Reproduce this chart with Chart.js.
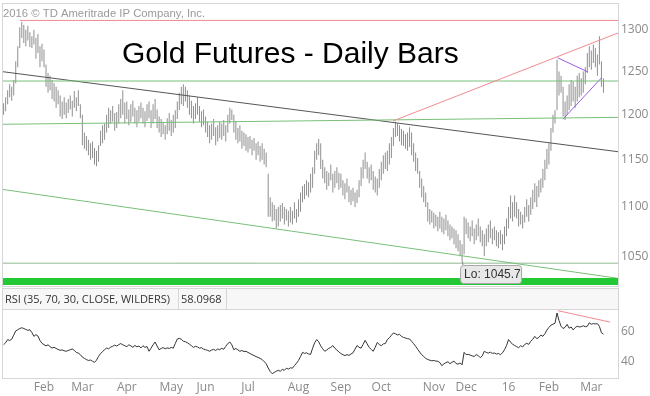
<!DOCTYPE html>
<html>
<head>
<meta charset="utf-8">
<script src="https://cdn.jsdelivr.net/npm/chart.js@4.4.1/dist/chart.umd.min.js"></script>
<style>
  body { margin: 0; background: #fff; }
  #wrap { position: relative; width: 650px; height: 396px; }
  #priceChart { position: absolute; left: 0; top: 0; }
  #rsiChart { position: absolute; left: 0; top: 288px; }
</style>
</head>
<body>
<div id="wrap">
  <canvas id="priceChart" width="650" height="288"></canvas>
  <canvas id="rsiChart" width="650" height="108"></canvas>
</div>
<script>
// daily bars, one entry per trading day (Jan 2015 -> Mar 2016)
const highs = [
  1213, 1220, 1228, 1235, 1232, 1240, 1262, 1280, 1303, 1310,
  1306, 1300, 1305, 1297, 1292, 1300, 1290, 1295, 1280, 1283,
  1276, 1258, 1248, 1245, 1240, 1236, 1232, 1228, 1222, 1215,
  1220, 1214, 1218, 1222, 1216, 1227, 1220, 1228, 1212, 1200,
  1180, 1176, 1172, 1168, 1170, 1163, 1160, 1166, 1182, 1188,
  1190, 1200, 1208, 1205, 1210, 1202, 1203, 1212, 1218, 1228,
  1214, 1215, 1206, 1212, 1216, 1208, 1205, 1210, 1214, 1208,
  1204, 1212, 1215, 1205, 1212, 1218, 1206, 1198, 1195, 1192,
  1188, 1196, 1202, 1194, 1200, 1205, 1215, 1225, 1232, 1235,
  1232, 1228, 1222, 1216, 1210, 1213, 1220, 1210, 1204, 1206,
  1198, 1192, 1188, 1190, 1195, 1186, 1188, 1192, 1190, 1194,
  1188, 1200, 1208, 1206, 1200, 1192, 1185, 1188, 1182, 1180,
  1178, 1175, 1176, 1172, 1174, 1168, 1170, 1165, 1168, 1162,
  1158, 1135, 1110, 1105, 1102, 1098, 1100, 1102, 1104, 1100,
  1098, 1096, 1100, 1096, 1105, 1098, 1108, 1115, 1122, 1124,
  1128, 1126, 1135, 1142, 1160, 1168, 1173, 1168, 1150, 1142,
  1138, 1136, 1145, 1135, 1138, 1142, 1136, 1135, 1128, 1125,
  1130, 1122, 1118, 1120, 1115, 1118, 1128, 1142, 1150, 1158,
  1148, 1142, 1145, 1138, 1132, 1130, 1140, 1148, 1155, 1158,
  1160, 1168, 1175, 1185, 1192, 1190, 1188, 1184, 1182, 1178,
  1180, 1186, 1180, 1168, 1158, 1152, 1138, 1130, 1122, 1115,
  1105, 1098, 1096, 1094, 1092, 1090, 1095, 1090, 1088, 1092,
  1086, 1082, 1080, 1078, 1076, 1072, 1066, 1062, 1090, 1088,
  1084, 1080, 1086, 1078, 1082, 1088, 1080, 1076, 1072, 1078,
  1082, 1086, 1078, 1080, 1076, 1074, 1076, 1072, 1080, 1088,
  1100, 1112, 1105, 1112, 1105, 1098, 1095, 1092, 1100, 1108,
  1102, 1110, 1118, 1125, 1122, 1128, 1130, 1140, 1150, 1162,
  1168, 1185, 1200, 1205, 1264, 1250, 1245, 1232, 1215, 1222,
  1235, 1240, 1238, 1232, 1245, 1248, 1242, 1250, 1255, 1272,
  1280, 1275, 1282, 1278, 1270, 1292, 1262, 1242
];
const lows = [
  1200, 1204, 1212, 1220, 1216, 1222, 1236, 1255, 1278, 1290,
  1284, 1280, 1287, 1279, 1278, 1282, 1265, 1272, 1255, 1262,
  1255, 1232, 1225, 1228, 1218, 1215, 1208, 1212, 1198, 1195,
  1200, 1196, 1202, 1206, 1198, 1208, 1204, 1210, 1196, 1166,
  1162, 1160, 1155, 1150, 1152, 1145, 1143, 1148, 1165, 1168,
  1172, 1180, 1185, 1190, 1192, 1182, 1185, 1190, 1196, 1200,
  1190, 1195, 1188, 1192, 1198, 1190, 1186, 1192, 1196, 1190,
  1186, 1193, 1196, 1185, 1190, 1195, 1185, 1180, 1175, 1178,
  1172, 1178, 1182, 1176, 1180, 1185, 1195, 1205, 1212, 1210,
  1215, 1208, 1200, 1196, 1190, 1195, 1200, 1192, 1186, 1188,
  1180, 1175, 1168, 1172, 1176, 1166, 1170, 1174, 1172, 1176,
  1170, 1180, 1190, 1194, 1180, 1172, 1168, 1170, 1162, 1165,
  1160, 1158, 1162, 1155, 1160, 1150, 1155, 1148, 1150, 1145,
  1142, 1090, 1090, 1085, 1086, 1078, 1080, 1085, 1088, 1082,
  1086, 1080, 1084, 1082, 1088, 1084, 1090, 1095, 1105, 1108,
  1112, 1110, 1115, 1120, 1135, 1150, 1155, 1140, 1130, 1125,
  1118, 1122, 1128, 1115, 1120, 1125, 1118, 1120, 1112, 1108,
  1115, 1105, 1102, 1106, 1100, 1104, 1110, 1122, 1130, 1140,
  1130, 1125, 1128, 1118, 1115, 1112, 1120, 1128, 1135, 1140,
  1138, 1145, 1152, 1165, 1175, 1176, 1170, 1166, 1165, 1162,
  1160, 1164, 1155, 1148, 1138, 1135, 1120, 1110, 1105, 1100,
  1085, 1082, 1084, 1078, 1080, 1075, 1078, 1074, 1072, 1076,
  1070, 1066, 1068, 1062, 1058, 1055, 1050, 1045.7, 1052, 1072,
  1068, 1065, 1070, 1062, 1066, 1070, 1064, 1060, 1050, 1060,
  1064, 1068, 1062, 1066, 1060, 1058, 1062, 1056, 1062, 1070,
  1078, 1088, 1085, 1090, 1088, 1080, 1082, 1078, 1084, 1090,
  1085, 1092, 1098, 1105, 1100, 1110, 1115, 1120, 1128, 1140,
  1145, 1160, 1180, 1190, 1205, 1222, 1225, 1198, 1194, 1200,
  1205, 1210, 1215, 1208, 1215, 1220, 1222, 1225, 1235, 1248,
  1255, 1252, 1260, 1255, 1245, 1258, 1232, 1225
];
const rsi = [
  51.3, 52.5, 54.6, 54.0, 54.8, 57.5, 60.2, 61.0, 61.8, 62.3,
  61.8, 61.2, 60.6, 61.0, 59.2, 56.7, 57.8, 56.9, 54.0, 52.2,
  51.3, 50.5, 51.2, 50.0, 49.1, 49.6, 48.8, 48.2, 47.6, 47.9,
  47.3, 47.0, 47.5, 48.0, 48.5, 47.6, 46.2, 45.8, 44.8, 43.2,
  42.4, 41.6, 41.0, 41.3, 40.5, 39.8, 41.2, 43.7, 45.5, 46.8,
  48.0, 49.1, 48.6, 49.7, 50.2, 51.0, 50.4, 51.3, 52.0, 51.2,
  50.6, 50.0, 51.2, 50.5, 49.6, 50.8, 49.9, 50.4, 49.2, 50.6,
  49.5, 50.1, 47.0, 49.0, 51.2, 53.0, 50.4, 48.0, 48.8, 49.4,
  48.6, 49.2, 48.8, 49.5, 49.0, 52.0, 55.0, 55.4, 54.8, 53.5,
  53.2, 52.5, 51.6, 50.6, 49.5, 50.2, 49.8, 49.0, 49.3, 48.4,
  48.0, 47.6, 47.0, 47.8, 48.2, 47.5, 48.5, 48.0, 48.9, 48.3,
  50.2, 52.0, 53.0, 51.2, 48.0, 48.8, 47.9, 47.0, 47.5, 46.8,
  47.0, 46.2, 45.6, 44.8, 44.2, 43.5, 43.0, 42.4, 41.6, 40.2,
  39.0, 36.1, 33.8, 32.4, 33.2, 34.0, 34.6, 34.0, 35.2, 34.6,
  36.0, 35.4, 36.2, 36.0, 37.6, 39.2, 41.0, 43.5, 46.3, 45.6,
  46.0, 45.2, 45.0, 49.0, 52.5, 54.6, 53.2, 50.5, 48.6, 47.0,
  47.8, 48.9, 49.5, 50.7, 49.0, 47.8, 46.6, 45.5, 44.8, 44.2,
  44.8, 44.3, 45.2, 46.0, 48.4, 50.7, 49.6, 49.0, 51.5, 54.1,
  51.8, 49.5, 48.2, 47.0, 49.6, 52.7, 51.4, 50.6, 51.8, 52.0,
  54.6, 55.8, 57.4, 58.9, 58.4, 57.6, 58.0, 56.7, 56.0, 55.6,
  55.2, 55.0, 53.5, 52.0, 50.2, 48.3, 46.5, 44.8, 43.6, 42.4,
  41.6, 41.2, 40.8, 41.0, 40.6, 40.5, 39.6, 37.6, 38.8, 39.6,
  40.2, 38.9, 39.8, 40.6, 39.0, 38.6, 39.4, 38.2, 46.3, 44.8,
  45.0, 44.5, 44.0, 43.6, 44.8, 44.2, 42.8, 44.0, 47.0, 46.2,
  45.8, 46.4, 45.6, 45.9, 45.2, 45.6, 44.8, 46.0, 48.0, 50.6,
  54.6, 53.0, 51.5, 50.8, 50.0, 49.3, 50.6, 49.8, 51.4, 52.2,
  51.5, 53.5, 54.8, 56.7, 55.2, 56.0, 57.5, 56.7, 58.4, 60.8,
  62.5, 64.0, 64.6, 65.2, 71.9, 67.0, 63.3, 61.8, 62.6, 64.5,
  62.0, 62.8, 60.9, 62.4, 63.3, 62.8, 63.0, 63.6, 63.0, 63.3,
  65.5, 64.6, 65.0, 64.8, 65.0, 63.2, 59.0, 58.1
];

const priceTicks = [1050, 1100, 1150, 1200, 1250, 1300];
const rsiTicks = [40, 60];
const monthTicks = [20, 39, 61, 83, 100, 121, 146, 167, 187, 213, 229, 250, 270, 291];
const monthLabels = ["Feb", "Mar", "Apr", "May", "Jun", "Jul", "Aug", "Sep", "Oct", "Nov", "Dec", "16", "Feb", "Mar"];
const lowIndex = 227;
const lowValue = 1045.7;

// trendlines as [barIndex, price] end points
const redTop = [[8.1, 1311.5], [304.2, 1311.5]];
const redRise = [[192.8, 1192.9], [304.2, 1296.1]];
const greenTop = [[-0.3, 1238.7], [304.2, 1238.7]];
const greenMid = [[-0.3, 1189.2], [304.2, 1197.0]];
const blackDown = [[-0.3, 1249.6], [304.2, 1158.8]];
const greenDown = [[-0.3, 1118.3], [304.2, 1028.4]];
const greenLow = [[-0.3, 1043.2], [304.2, 1043.2]];
const greenFloor = [[-0.3, 1025.3], [304.2, 1025.3]];
const purpleTop = [[274.3, 1266.2], [289.3, 1249.3]];
const purpleBottom = [[276.9, 1194.8], [296.1, 1242.6]];
const rsiDiv = [[274.5, 73.4], [300.2, 66.0]];

const FONT = "'Open Sans', sans-serif";

function seg(points, color, width) {
  return {
    type: "line",
    data: points.map(p => ({ x: p[0], y: p[1] })),
    borderColor: color,
    borderWidth: width || 1,
    pointRadius: 0,
    order: 1,
  };
}

// no label padding at the ends of the axes
function noPad(s) {
  s.paddingTop = 0;
  s.paddingBottom = 0;
  s.paddingLeft = 0;
  s.paddingRight = 0;
}

const framePlugin = {
  id: "frame",
  afterDraw(chart) {
    const { ctx, chartArea: a } = chart;
    ctx.save();
    ctx.strokeStyle = "#d6d6d6";
    ctx.lineWidth = 1;
    ctx.strokeRect(a.left - 0.5, a.top - 0.5, a.right - a.left + 1, a.bottom - a.top + 1);
    ctx.restore();
  },
};

const priceText = {
  id: "priceText",
  afterDraw(chart) {
    const ctx = chart.ctx;
    ctx.save();
    ctx.fillStyle = "#9a9a9a";
    ctx.font = "11.3px 'Liberation Sans', Arial, sans-serif";
    ctx.textBaseline = "middle";
    ctx.fillText("2016 \u00a9 TD Ameritrade IP Company, Inc.", 3, 14);

    ctx.fillStyle = "#000";
    ctx.font = "30px 'Liberation Sans', Arial, sans-serif";
    ctx.textBaseline = "alphabetic";
    ctx.fillText("Gold Futures - Daily Bars", 122, 63);

    // low marker
    const px = chart.scales.x.getPixelForValue(lowIndex);
    const py = chart.scales.y.getPixelForValue(lowValue);
    ctx.strokeStyle = "#888";
    ctx.beginPath();
    ctx.moveTo(px, py);
    ctx.lineTo(px + 1, 265);
    ctx.stroke();
    ctx.fillStyle = "#e8e8e8";
    ctx.strokeStyle = "#a8a8a8";
    ctx.beginPath();
    ctx.roundRect(px - 1.5, 265.5, 61, 18, 3);
    ctx.fill();
    ctx.stroke();
    ctx.fillStyle = "#333";
    ctx.font = "12px 'Liberation Sans', Arial, sans-serif";
    ctx.textBaseline = "middle";
    ctx.fillText("Lo: 1045.7", px + 2, 275);
    ctx.restore();
  },
};

const rsiHeader = {
  id: "rsiHeader",
  afterDraw(chart) {
    const ctx = chart.ctx;
    const a = chart.chartArea;
    ctx.save();
    ctx.fillStyle = "#f7f7f7";
    ctx.fillRect(a.left, 1, a.right - a.left, 20);
    ctx.strokeStyle = "#d6d6d6";
    ctx.strokeRect(a.left - 0.5, 0.5, a.right - a.left + 1, 21);
    ctx.beginPath();
    ctx.moveTo(178.5, 1);
    ctx.lineTo(178.5, 21);
    ctx.moveTo(226.5, 1);
    ctx.lineTo(226.5, 21);
    ctx.stroke();
    ctx.fillStyle = "#333";
    ctx.font = "11px " + FONT;
    ctx.textBaseline = "middle";
    ctx.fillText("RSI (35, 70, 30, CLOSE, WILDERS)", 5, 11.5);
    ctx.fillText("58.0968", 181, 11.5);
    ctx.restore();
  },
};

const xRange = { type: "linear", min: -0.3, max: 304.2, offset: false };

new Chart(document.getElementById("priceChart"), {
  type: "bar",
  data: {
    datasets: [
      {
        type: "bar",
        data: highs.map((h, i) => ({ x: i, y: [lows[i], h] })),
        backgroundColor: "#8f8f8f",
        barThickness: 1,
        borderWidth: 0,
        inflateAmount: 0,
        order: 2,
      },
      seg(greenFloor, "#22c935", 7),
      seg(redTop, "#f08a92"),
      seg(redRise, "#f08a92"),
      seg(greenTop, "#79bf79"),
      seg(greenMid, "#79bf79"),
      seg(blackDown, "#555555"),
      seg(greenDown, "#79bf79"),
      seg(greenLow, "#8fb98f"),
      seg(purpleTop, "#9a5ce0"),
      seg(purpleBottom, "#9a5ce0"),
    ],
  },
  options: {
    responsive: false,
    animation: false,
    layout: { padding: { left: 3, top: 4, bottom: 2, right: 0 } },
    plugins: { legend: { display: false }, tooltip: { enabled: false } },
    scales: {
      x: Object.assign({}, xRange, { display: false }),
      y: {
        type: "logarithmic",
        position: "right",
        min: 1021,
        max: 1332,
        grid: { display: false, drawTicks: false },
        border: { display: false },
        afterBuildTicks: s => { s.ticks = priceTicks.map(v => ({ value: v })); },
        afterFit: s => { s.width = 32; noPad(s); },
        ticks: {
          color: "#8a8a8a",
          font: { family: FONT, size: 12 },
          padding: 3,
          callback: v => String(v),
        },
      },
    },
  },
  plugins: [framePlugin, priceText],
});

new Chart(document.getElementById("rsiChart"), {
  type: "line",
  data: {
    datasets: [
      {
        data: rsi.map((v, i) => ({ x: i, y: v })),
        borderColor: "#333",
        borderWidth: 1,
        pointRadius: 0,
        order: 2,
      },
      seg(rsiDiv, "#f08a92"),
    ],
  },
  options: {
    responsive: false,
    animation: false,
    layout: { padding: { left: 3, top: 21, bottom: 0, right: 0 } },
    plugins: { legend: { display: false }, tooltip: { enabled: false } },
    scales: {
      x: Object.assign({}, xRange, {
        grid: { display: false, drawTicks: false },
        border: { display: false },
        afterBuildTicks: s => { s.ticks = monthTicks.map(v => ({ value: v })); },
        afterFit: s => { s.height = 18; noPad(s); },
        ticks: {
          autoSkip: false,
          maxRotation: 0,
          color: "#8a8a8a",
          font: { family: FONT, size: 12 },
          padding: 2,
          callback: v => monthLabels[monthTicks.indexOf(v)],
        },
      }),
      y: {
        position: "right",
        min: 29.6,
        max: 74.5,
        grid: { display: false, drawTicks: false },
        border: { display: false },
        afterBuildTicks: s => { s.ticks = rsiTicks.map(v => ({ value: v })); },
        afterFit: s => { s.width = 32; noPad(s); },
        ticks: {
          color: "#8a8a8a",
          font: { family: FONT, size: 12 },
          padding: 3,
        },
      },
    },
  },
  plugins: [framePlugin, rsiHeader],
});
</script>
</body>
</html>
